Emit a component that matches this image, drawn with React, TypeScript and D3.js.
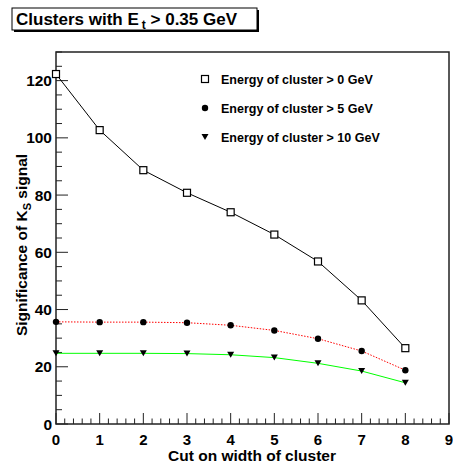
import React from "react";
import * as d3 from "d3";

const cuts = [0, 1, 2, 3, 4, 5, 6, 7, 8];
const energyGt0 = [122.3, 102.7, 88.7, 80.8, 74.0, 66.2, 56.8, 43.2, 26.5];
const energyGt5 = [35.7, 35.6, 35.6, 35.4, 34.5, 32.7, 29.8, 25.5, 18.8];
const energyGt10 = [24.7, 24.7, 24.7, 24.6, 24.2, 23.2, 21.2, 18.5, 14.4];
const xTicks = [0, 1, 2, 3, 4, 5, 6, 7, 8, 9];
const yTicks = [0, 20, 40, 60, 80, 100, 120];
const legendLabels = [
  "Energy of cluster > 0 GeV",
  "Energy of cluster > 5 GeV",
  "Energy of cluster > 10 GeV",
];

const W = 453;
const H = 466;
const L = 56, R = 449, T = 52, B = 424;
const FONT = "'Liberation Sans', Arial, Helvetica, sans-serif";

function Marker({ kind, x, y }: { kind: string; x: number; y: number }) {
  if (kind === "square")
    return <rect x={x - 3.5} y={y - 3.5} width={7} height={7} fill="white" stroke="black" strokeWidth={1.2} />;
  if (kind === "circle") return <circle cx={x} cy={y} r={3.2} fill="black" />;
  return <path d={`M${x - 3.5},${y - 3} L${x + 3.5},${y - 3} L${x},${y + 3} Z`} fill="black" />;
}

export default function App() {
  const x = d3.scaleLinear().domain([0, 9]).range([L, R]);
  const y = d3.scaleLinear().domain([0, 130]).range([B, T]);
  const line = d3
    .line<number>()
    .x((_, i) => x(cuts[i]))
    .y((d) => y(d));

  const xMinor = d3.range(0, 9.001, 0.2);
  const yMinor = d3.range(0, 130.001, 5);

  const series = [
    { data: energyGt0, color: "black", dash: undefined, kind: "square" },
    { data: energyGt5, color: "#ff0000", dash: "1.5,1.5", kind: "circle" },
    { data: energyGt10, color: "#00ff00", dash: undefined, kind: "triangle" },
  ];

  return (
    <svg width={W} height={H} style={{ position: "absolute", left: 0, top: 0, background: "white" }} fontFamily={FONT}>
      <rect x={0} y={0} width={W} height={H} fill="white" />
      {/* title box */}
      <rect x={14} y={10} width={245} height={22} fill="black" />
      <rect x={12} y={8} width={245} height={22} fill="white" stroke="black" strokeWidth={1} />
      <text x={16} y={25} fontSize={17} fontWeight="bold">
        Clusters with E
        <tspan fontSize={12} dx={3} dy={4}>t</tspan>
        <tspan dy={-4}> &gt; 0.35 GeV</tspan>
      </text>

      {/* frame */}
      <rect x={L} y={T} width={R - L} height={B - T} fill="none" stroke="#222" strokeWidth={1.5} />

      {/* ticks */}
      {xMinor.map((v, i) => {
        const major = Math.abs(v - Math.round(v)) < 1e-6;
        return (
          <line key={"xm" + i} x1={x(v)} x2={x(v)} y1={B} y2={B - (major ? 11 : 5.5)} stroke="#222" strokeWidth={1} />
        );
      })}
      {yMinor.map((v, i) => {
        const major = v % 20 === 0;
        return (
          <line key={"ym" + i} x1={L} x2={L + (major ? 12 : 6)} y1={y(v)} y2={y(v)} stroke="#222" strokeWidth={1} />
        );
      })}
      {xTicks.map((v) => (
        <text key={"xl" + v} x={x(v)} y={445} textAnchor="middle" fontSize={15} fontWeight="bold">
          {v}
        </text>
      ))}
      {yTicks.map((v) => (
        <text key={"yl" + v} x={52} y={y(v) + 5.5} textAnchor="end" fontSize={15.5} fontWeight="bold">
          {v}
        </text>
      ))}

      {/* axis titles */}
      <text x={252} y={461} textAnchor="middle" fontSize={15.5} fontWeight="bold">
        Cut on width of cluster
      </text>
      <text transform="translate(27,245) rotate(-90)" textAnchor="middle" fontSize={15.5} fontWeight="bold">
        Significance of K
        <tspan fontSize={11} dy={4}>S</tspan>
        <tspan dy={-4}> signal</tspan>
      </text>

      {/* series */}
      {series.map((s, si) => (
        <g key={"s" + si}>
          <path d={line(s.data) || ""} fill="none" stroke={s.color} strokeWidth={1} strokeDasharray={s.dash} />
          {s.data.map((d, i) => (
            <Marker key={i} kind={s.kind} x={x(cuts[i])} y={y(d)} />
          ))}
        </g>
      ))}

      {/* legend */}
      {legendLabels.map((lab, i) => (
        <g key={"lg" + i}>
          <Marker kind={series[i].kind} x={205} y={79 + i * 29} />
          <text x={221} y={83.5 + i * 29} fontSize={12.5} fontWeight="bold">
            {lab}
          </text>
        </g>
      ))}
    </svg>
  );
}
